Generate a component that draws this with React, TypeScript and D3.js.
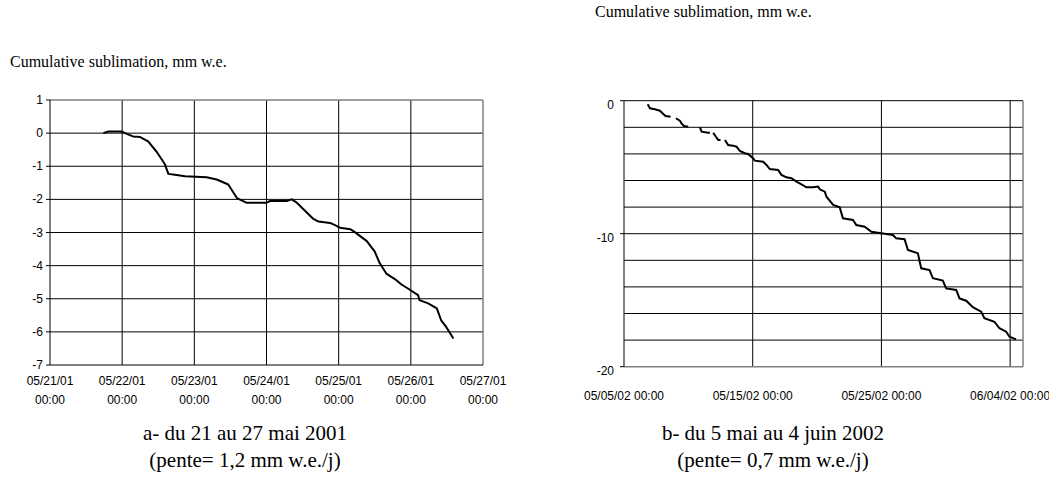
import React from "react";
import * as d3 from "d3";

// ---------- Chart a (21-27 May 2001) ----------
const leftTickDates = ["05/21/01", "05/22/01", "05/23/01", "05/24/01", "05/25/01", "05/26/01", "05/27/01"];
const leftTickTime = "00:00";
const leftYTicks = [1, 0, -1, -2, -3, -4, -5, -6, -7];
// days since 05/21/01 00:00
const leftDays = [0.74, 0.81, 0.99, 1.04, 1.15, 1.25, 1.36, 1.48, 1.59, 1.64, 1.73, 1.87, 2.17, 2.31, 2.47, 2.59, 2.72, 3.0, 3.05, 3.28, 3.35, 3.42, 3.65, 3.72, 3.88, 3.95, 4.02, 4.16, 4.22, 4.39, 4.5, 4.57, 4.66, 4.8, 4.87, 4.96, 5.1, 5.12, 5.24, 5.36, 5.42, 5.49, 5.59];
const leftValues = [0, 0.05, 0.05, 0, -0.1, -0.12, -0.25, -0.57, -0.93, -1.23, -1.26, -1.3, -1.33, -1.4, -1.55, -1.96, -2.1, -2.1, -2.05, -2.05, -2.0, -2.1, -2.59, -2.67, -2.71, -2.78, -2.86, -2.9, -2.98, -3.26, -3.58, -3.93, -4.24, -4.44, -4.57, -4.69, -4.89, -5.04, -5.14, -5.29, -5.65, -5.85, -6.2];

// ---------- Chart b (5 May - 4 June 2002) ----------
const rightTickLabels = ["05/05/02 00:00", "05/15/02 00:00", "05/25/02 00:00", "06/04/02 00:00"];
const rightTickDays = [0, 10, 20, 30];
const rightYLabels = [0, -10, -20];
const rightGridValues = [-2, -4, -6, -8, -10, -12, -14, -16, -18];
// days since 05/05/02 00:00 (null = gap in record)
const rightDays = [1.84, 2.02, 2.4, 2.79, 3.05, 3.23, 3.62, null,
  4.03, 4.34, 4.47, 4.65, 4.99, null,
  5.9, 6.03, 6.54, 6.67, null,
  6.93, 7.14, 7.32, 7.5, null,
  7.84, 8.09, 8.48, 8.74, 9.0, 9.39, 9.64, 10.03, 10.16, 10.81, 11.07, 11.33, 11.97, 12.23, 12.62, 13.01, 13.4, 13.79, 14.17, 14.69, 15.08, 15.21, 15.6, 15.73, 16.25, 16.76, 17.01, 17.79, 18.05, 18.7, 19.22, 19.99, 20.89, 21.15, 21.8, 22.06, 22.83, 23.09, 23.74, 24.0, 24.77, 25.03, 25.81, 26.07, 26.59, 27.1, 27.75, 28.0, 28.78, 29.17, 29.69, 29.95, 30.46];
const rightValues = [-0.27, -0.57, -0.65, -0.75, -1.0, -1.15, -1.2, null,
  -1.32, -1.5, -1.7, -1.9, -1.95, null,
  -2.0, -2.33, -2.41, -2.41, null,
  -2.41, -2.71, -2.95, -2.95, null,
  -2.95, -3.33, -3.38, -3.46, -3.78, -3.95, -4.0, -4.33, -4.51, -4.59, -4.83, -5.14, -5.21, -5.58, -5.76, -5.83, -6.09, -6.29, -6.51, -6.51, -6.45, -6.66, -6.84, -7.22, -7.84, -8.02, -8.84, -8.97, -9.35, -9.47, -9.85, -9.97, -10.1, -10.35, -10.42, -11.23, -11.47, -12.6, -12.73, -13.35, -13.53, -14.11, -14.23, -14.86, -15.04, -15.53, -15.86, -16.36, -16.62, -17.11, -17.37, -17.74, -17.94];

const titleText = "Cumulative sublimation, mm w.e.";
const captionA = ["a- du 21 au 27 mai 2001", "(pente= 1,2 mm w.e./j)"];
const captionB = ["b- du 5 mai au 4 juin 2002", "(pente= 0,7 mm w.e./j)"];

const SANS = "'Liberation Sans', Arial, sans-serif";
const SERIF = "'Liberation Serif', 'Times New Roman', serif";
const TICK_FS = 12;

export default function App() {
  // left chart scales
  const lx = d3.scaleLinear().domain([0, 6]).range([50, 483]);
  const ly = d3.scaleLinear().domain([-7, 1]).range([365, 100]);
  const leftLine = d3.line<number>()
    .x((_, i) => lx(leftDays[i]))
    .y((_, i) => ly(leftValues[i]));
  const leftPath = leftLine(leftDays) || "";

  // right chart scales
  const rx = d3.scaleLinear().domain([0, 31]).range([624, 1023]);
  const ry = d3.scaleLinear().domain([-20, 0]).range([366.7, 100.7]);
  const idx = rightDays.map((_, i) => i);
  const rightLine = d3.line<number>()
    .defined((i) => rightDays[i] != null && rightValues[i] != null)
    .x((i) => rx(rightDays[i] as number))
    .y((i) => ry(rightValues[i] as number));
  const rightPath = rightLine(idx) || "";

  const leftTicksX = d3.range(leftTickDates.length);

  return (
    <svg width={1049} height={495} style={{ position: "absolute", left: 0, top: 0, background: "#fff" }}>
      <rect x={0} y={0} width={1049} height={495} fill="#fff" />

      {/* ===== Chart a ===== */}
      <text x={10} y={67} fontFamily={SERIF} fontSize={16} fill="#000">{titleText}</text>
      {leftYTicks.filter((v) => v < 1 && v > -7).map((v) => (
        <line key={"lh" + v} x1={lx(0)} x2={lx(6)} y1={ly(v)} y2={ly(v)} stroke="#000" strokeWidth={1} />
      ))}
      {leftTicksX.filter((d) => d > 0 && d < 6).map((d) => (
        <line key={"lv" + d} x1={lx(d)} x2={lx(d)} y1={ly(1)} y2={ly(-7)} stroke="#000" strokeWidth={1} />
      ))}
      <line x1={lx(0)} x2={lx(6)} y1={ly(1)} y2={ly(1)} stroke="#808080" strokeWidth={1.5} />
      <line x1={lx(6)} x2={lx(6)} y1={ly(1)} y2={ly(-7)} stroke="#808080" strokeWidth={1.5} />
      <line x1={lx(0)} x2={lx(6)} y1={ly(-7)} y2={ly(-7)} stroke="#000" strokeWidth={1} />
      <line x1={lx(0)} x2={lx(0)} y1={ly(1)} y2={ly(-7)} stroke="#000" strokeWidth={1} />
      {leftYTicks.map((v) => (
        <g key={"lyt" + v}>
          <line x1={lx(0) - 4} x2={lx(0)} y1={ly(v)} y2={ly(v)} stroke="#000" strokeWidth={1} />
          <text x={43} y={ly(v) + 4} textAnchor="end" fontFamily={SANS} fontSize={TICK_FS} fill="#000">{v}</text>
        </g>
      ))}
      {leftTicksX.map((d) => (
        <g key={"lxt" + d}>
          <text x={lx(d)} y={385} textAnchor="middle" fontFamily={SANS} fontSize={TICK_FS} fill="#000">{leftTickDates[d]}</text>
          <text x={lx(d)} y={404} textAnchor="middle" fontFamily={SANS} fontSize={TICK_FS} fill="#000">{leftTickTime}</text>
        </g>
      ))}
      <path d={leftPath} fill="none" stroke="#000" strokeWidth={2} strokeLinejoin="round" />
      {captionA.map((t, i) => (
        <text key={"ca" + i} x={245} y={440 + i * 27} textAnchor="middle" fontFamily={SERIF} fontSize={21} fill="#000">{t}</text>
      ))}

      {/* ===== Chart b ===== */}
      <text x={595} y={17} fontFamily={SERIF} fontSize={16} fill="#000">{titleText}</text>
      {rightGridValues.map((v) => (
        <line key={"rh" + v} x1={rx(0)} x2={rx(31)} y1={ry(v)} y2={ry(v)} stroke="#000" strokeWidth={1} />
      ))}
      {rightTickDays.filter((d) => d > 0).map((d) => (
        <line key={"rv" + d} x1={rx(d)} x2={rx(d)} y1={ry(0)} y2={ry(-20)} stroke="#000" strokeWidth={1} />
      ))}
      <line x1={rx(0)} x2={rx(31)} y1={ry(0)} y2={ry(0)} stroke="#000" strokeWidth={1} />
      <line x1={rx(31)} x2={rx(31)} y1={ry(0)} y2={ry(-20)} stroke="#808080" strokeWidth={1.5} />
      <line x1={rx(0)} x2={rx(31)} y1={ry(-20)} y2={ry(-20)} stroke="#808080" strokeWidth={1.5} />
      <line x1={rx(0)} x2={rx(0)} y1={ry(0)} y2={ry(-20)} stroke="#000" strokeWidth={1} />
      {rightYLabels.map((v) => (
        <g key={"ryt" + v}>
          <line x1={rx(0) - 4} x2={rx(0)} y1={ry(v)} y2={ry(v)} stroke="#000" strokeWidth={1} />
          <text x={614} y={ry(v) + 8} textAnchor="end" fontFamily={SANS} fontSize={TICK_FS} fill="#000">{v}</text>
        </g>
      ))}
      {rightTickDays.map((d, i) => (
        <text key={"rxt" + d} x={rx(d)} y={400} textAnchor="middle" fontFamily={SANS} fontSize={TICK_FS} fill="#000">{rightTickLabels[i]}</text>
      ))}
      <path d={rightPath} fill="none" stroke="#000" strokeWidth={2} strokeLinejoin="miter" />
      {captionB.map((t, i) => (
        <text key={"cb" + i} x={773} y={440 + i * 27} textAnchor="middle" fontFamily={SERIF} fontSize={21} fill="#000">{t}</text>
      ))}
    </svg>
  );
}
